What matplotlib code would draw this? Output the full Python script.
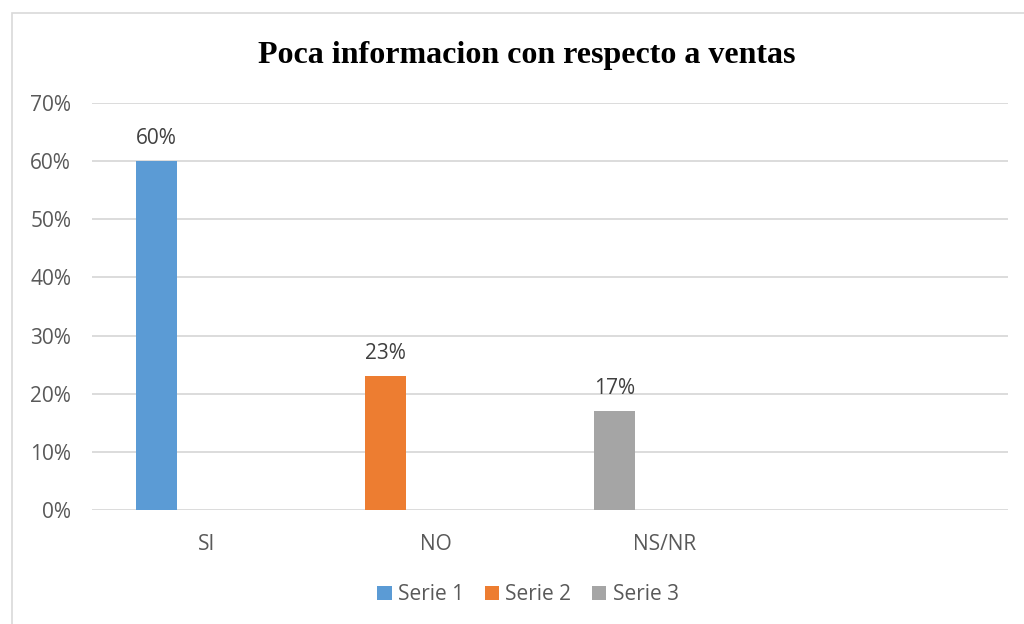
import matplotlib
matplotlib.use("Agg")
import matplotlib.pyplot as plt
from matplotlib.patches import Patch, Rectangle
from matplotlib.ticker import PercentFormatter

categories = ['SI', 'NO', 'NS/NR', '']
series_names = ['Serie 1', 'Serie 2', 'Serie 3']
serie_1 = [0.60, 0, 0, 0]
serie_2 = [0, 0.23, 0, 0]
serie_3 = [0, 0, 0.17, 0]
y_ticks = [0, 0.1, 0.2, 0.3, 0.4, 0.5, 0.6, 0.7]

colors = ['#5B9BD5', '#ED7D31', '#A5A5A5']
text_color = '#595959'
grid_color = '#D9D9D9'
font = 'Open Sans'
fs = 15

W, H = 1024, 624
fig = plt.figure(figsize=(W / 100, H / 100), dpi=100)
ax = fig.add_axes([92 / W, 1 - 510 / H, 916 / W, 407 / H])

offset = -0.219
width = 0.179
x = list(range(len(categories)))
for name, vals, c in zip(series_names, [serie_1, serie_2, serie_3], colors):
    xs = [i + offset for i in x]
    ax.bar(xs, vals, width=width, color=c, zorder=3)
    for xi, v in zip(xs, vals):
        if v:
            ax.annotate(f'{v:.0%}', (xi, v), xytext=(0, 9), textcoords='offset points',
                        ha='center', va='bottom', fontsize=fs, family=font, color='#404040')

ax.set_xlim(-0.5, len(categories) - 0.5)
ax.set_ylim(0, 0.7)
ax.set_yticks(y_ticks)
ax.yaxis.set_major_formatter(PercentFormatter(1.0, decimals=0))
ax.set_xticks(x)
ax.set_xticklabels(categories)
ax.tick_params(axis='both', length=0, labelsize=fs, labelcolor=text_color)
ax.tick_params(axis='x', pad=17)
ax.tick_params(axis='y', pad=15)
for lab in ax.get_xticklabels() + ax.get_yticklabels():
    lab.set_family(font)
ax.grid(axis='y', color=grid_color, lw=1.3, zorder=0)
for s in ax.spines.values():
    s.set_visible(False)

fig.text(527 / W, 1 - 63 / H, 'Poca informacion con respecto a ventas', ha='center', va='baseline',
         fontsize=23, fontweight='bold', family='Liberation Serif', color='black')

handles = [Patch(facecolor=c, label=n) for c, n in zip(colors, series_names)]
leg = fig.legend(handles=handles, loc='center', bbox_to_anchor=(528 / W, 1 - 595 / H), ncol=3,
                 frameon=False, handlelength=0.68, handleheight=0.68, handletextpad=0.3,
                 columnspacing=1.0, prop={'family': font, 'size': fs})
for t in leg.get_texts():
    t.set_color(text_color)

fig.patches.append(Rectangle((12 / W, -0.1), 2, 1.1 - 13 / H, transform=fig.transFigure,
                             fill=False, edgecolor=grid_color, lw=1.2))

fig.savefig('out.png', dpi=100)
